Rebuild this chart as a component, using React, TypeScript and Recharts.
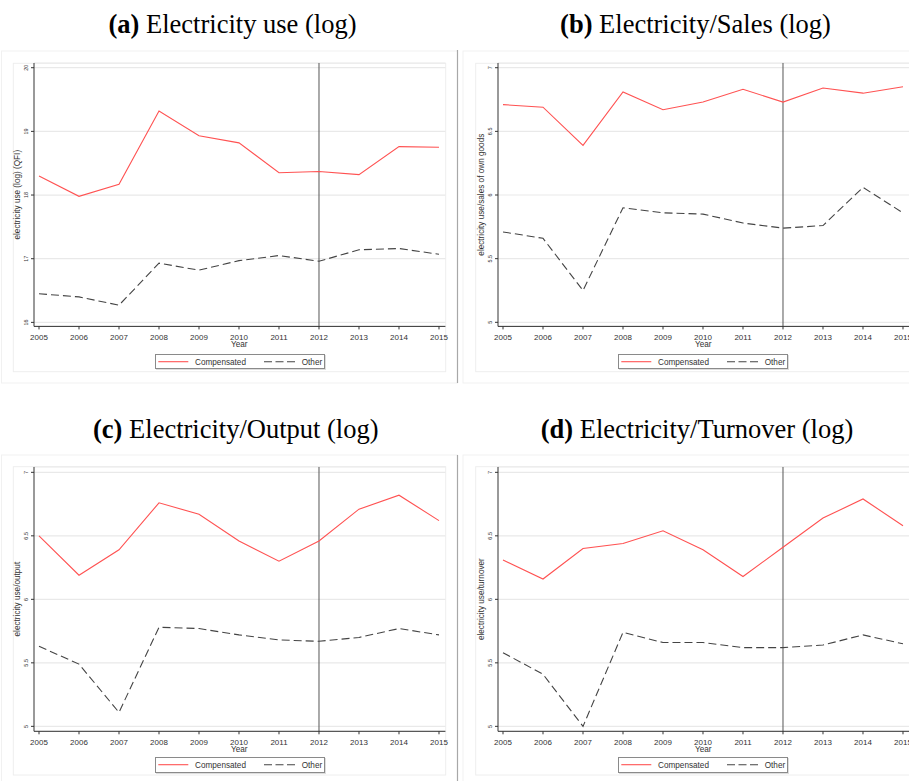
import { LineChart, Line, XAxis, YAxis, CartesianGrid, ReferenceLine } from 'recharts'

const years = [2005, 2006, 2007, 2008, 2009, 2010, 2011, 2012, 2013, 2014, 2015]

// (a) electricity use (log)
const useCompensated = [18.3, 17.98, 18.17, 19.32, 18.93, 18.82, 18.35, 18.37, 18.32, 18.76, 18.75]
const useOther = [16.45, 16.4, 16.27, 16.93, 16.82, 16.97, 17.05, 16.96, 17.14, 17.16, 17.07]

// (b) electricity / sales of own goods
const salesCompensated = [6.71, 6.69, 6.39, 6.81, 6.67, 6.73, 6.83, 6.73, 6.84, 6.8, 6.85]
const salesOther = [5.71, 5.66, 5.25, 5.9, 5.86, 5.85, 5.78, 5.74, 5.76, 6.06, 5.86]

// (c) electricity / output
const outputCompensated = [6.5, 6.19, 6.39, 6.76, 6.67, 6.46, 6.3, 6.46, 6.71, 6.82, 6.62]
const outputOther = [5.63, 5.49, 5.11, 5.78, 5.77, 5.72, 5.68, 5.67, 5.7, 5.77, 5.72]

// (d) electricity / turnover
const turnoverCompensated = [6.31, 6.16, 6.4, 6.44, 6.54, 6.39, 6.18, 6.41, 6.64, 6.79, 6.58]
const turnoverOther = [5.58, 5.41, 5.0, 5.74, 5.66, 5.66, 5.62, 5.62, 5.64, 5.72, 5.65]

const useTicks = [16, 17, 18, 19, 20]
const ratioTicks = [5, 5.5, 6, 6.5, 7]
const policyYear = 2012

const SANS = '"Liberation Sans", Arial, sans-serif'
const SERIF = '"Liberation Serif", "Times New Roman", serif'
const RED = '#ff5252'
const DARK = '#444'

const PLOT_W = 411.4
const AXIS_LEFT = 34
const PLOT_TOP = 60

const toRows = (comp: number[], other: number[]) =>
  years.map((year, i) => ({ year, comp: comp[i], other: other[i] }))

function YTick({ x, y, payload }: any) {
  return (
    <text
      x={x - 1}
      y={y}
      transform={`rotate(-90 ${x - 1} ${y})`}
      textAnchor="middle"
      fontSize={5.5}
      fill="#333"
      fontFamily={SANS}
    >
      {payload.value}
    </text>
  )
}

function YTitle({ text, plotH }: any) {
  const x = AXIS_LEFT - 13.8
  const y = PLOT_TOP + plotH / 2
  return (
    <text x={x} y={y} transform={`rotate(-90 ${x} ${y})`} textAnchor="middle" fontSize={8.2} fill="#333" fontFamily={SANS}>
      {text}
    </text>
  )
}

function YearTitle({ plotH }: any) {
  return (
    <text x={AXIS_LEFT + 205.3} y={PLOT_TOP + plotH + 21} textAnchor="middle" fontSize={8.2} fill="#333" fontFamily={SANS}>
      Year
    </text>
  )
}

interface PanelProps {
  left: number
  top: number
  plotH: number
  domain: [number, number]
  ticks: number[]
  yLabel: string
  data: { year: number; comp: number; other: number }[]
}

function Panel({ left, top, plotH, domain, ticks, yLabel, data }: PanelProps) {
  const width = 460
  const height = plotH + 112
  return (
    <div style={{ position: 'absolute', left: left - AXIS_LEFT, top: top - PLOT_TOP }}>
      <LineChart
        width={width}
        height={height}
        data={data}
        margin={{ top: PLOT_TOP, left: AXIS_LEFT - 24, right: width - AXIS_LEFT - PLOT_W, bottom: height - PLOT_TOP - plotH - 22 }}
      >
        <CartesianGrid vertical={false} stroke="#e9e9e9" strokeWidth={1.2} />
        <XAxis
          dataKey="year"
          type="number"
          domain={[2004.875, 2015.16]}
          allowDataOverflow
          ticks={years}
          interval={0}
          height={22}
          tickSize={3}
          tickMargin={5}
          stroke="#333"
          tick={{ fontSize: 8, fill: '#333', fontFamily: SANS }}
          label={<YearTitle plotH={plotH} />}
        />
        <YAxis
          type="number"
          domain={domain}
          allowDataOverflow
          ticks={ticks}
          interval={0}
          width={24}
          tickSize={3}
          tickMargin={2}
          stroke="#333"
          tick={<YTick />}
          label={<YTitle text={yLabel} plotH={plotH} />}
        />
        <ReferenceLine x={policyYear} stroke="#555" strokeWidth={1} />
        <Line dataKey="comp" stroke={RED} strokeWidth={1.1} dot={false} isAnimationActive={false} />
        <Line dataKey="other" stroke={DARK} strokeWidth={1.1} strokeDasharray="8 4" dot={false} isAnimationActive={false} />
      </LineChart>
    </div>
  )
}

function LegendBox({ left, top }: { left: number; top: number }) {
  return (
    <div
      style={{
        position: 'absolute',
        left,
        top,
        width: 170,
        height: 15.4,
        boxSizing: 'border-box',
        border: '1px solid #8a8a8a',
        background: '#fff',
        boxShadow: '1px 1px 0 #ddd',
      }}
    >
      <svg width={170} height={14} style={{ position: 'absolute', left: -1, top: -1 }}>
        <line x1={3.3} x2={33.3} y1={7.7} y2={7.7} stroke={RED} strokeWidth={1.1} />
        <text x={40} y={10.6} fontSize={8.2} fill="#333" fontFamily={SANS}>Compensated</text>
        <line x1={109} x2={140} y1={7.7} y2={7.7} stroke={DARK} strokeWidth={1.1} strokeDasharray="8 3.5" />
        <text x={146.7} y={10.6} fontSize={8.2} fill="#333" fontFamily={SANS}>Other</text>
      </svg>
    </div>
  )
}

const titles = [
  { x: 232.5, y: 32.7, tag: '(a)', text: ' Electricity use (log)' },
  { x: 695.5, y: 32.7, tag: '(b)', text: ' Electricity/Sales (log)' },
  { x: 235.8, y: 438, tag: '(c)', text: ' Electricity/Output (log)' },
  { x: 697, y: 438, tag: '(d)', text: ' Electricity/Turnover (log)' },
]

export default function App() {
  return (
    <div style={{ position: 'absolute', left: 0, top: 0, width: 909, height: 781, overflow: 'hidden', background: '#fff' }}>
      <svg width={909} height={781} style={{ position: 'absolute', left: 0, top: 0 }}>
        {/* outer frames of the four sub-figures */}
        <rect x={1.5} y={51} width={456} height={332} fill="none" stroke="#f1f1f1" />
        <rect x={463} y={51} width={450} height={332} fill="none" stroke="#f1f1f1" />
        <rect x={1.5} y={455} width={456} height={330} fill="none" stroke="#f1f1f1" />
        <rect x={463} y={455} width={450} height={330} fill="none" stroke="#f1f1f1" />
        {/* graph regions */}
        <rect x={13.3} y={63.3} width={432.4} height={308.4} fill="none" stroke="#eeeeee" />
        <rect x={475.7} y={63.3} width={440} height={308.4} fill="none" stroke="#eeeeee" />
        <rect x={13.3} y={466.7} width={432.4} height={308.3} fill="none" stroke="#eeeeee" />
        <rect x={475.7} y={466.7} width={440} height={308.3} fill="none" stroke="#eeeeee" />
        {/* column separators */}
        <line x1={457.5} x2={457.5} y1={50} y2={383} stroke="#a8a8a8" strokeWidth={1.2} />
        <line x1={457.5} x2={457.5} y1={455} y2={781} stroke="#a8a8a8" strokeWidth={1.2} />
        {titles.map((t) => (
          <text key={t.tag} x={t.x} y={t.y} textAnchor="middle" fontSize={26.5} fill="#000" fontFamily={SERIF}>
            <tspan fontWeight="bold">{t.tag}</tspan>
            {t.text}
          </text>
        ))}
      </svg>

      <Panel left={34.3} top={63.3} plotH={263.4} domain={[15.937, 20.074]} ticks={useTicks}
        yLabel="electricity use (log) (QFI)" data={toRows(useCompensated, useOther)} />
      <Panel left={497.7} top={63.3} plotH={263.4} domain={[4.968, 7.037]} ticks={ratioTicks}
        yLabel="electricity use/sales of own goods" data={toRows(salesCompensated, salesOther)} />
      <Panel left={34.3} top={466.7} plotH={264.3} domain={[4.961, 7.042]} ticks={ratioTicks}
        yLabel="electricity use/output" data={toRows(outputCompensated, outputOther)} />
      <Panel left={497.7} top={466.7} plotH={264.3} domain={[4.961, 7.042]} ticks={ratioTicks}
        yLabel="electricity use/turnover" data={toRows(turnoverCompensated, turnoverOther)} />

      <LegendBox left={155} top={354} />
      <LegendBox left={617.7} top={354} />
      <LegendBox left={155} top={757.3} />
      <LegendBox left={618.3} top={757.3} />
    </div>
  )
}
